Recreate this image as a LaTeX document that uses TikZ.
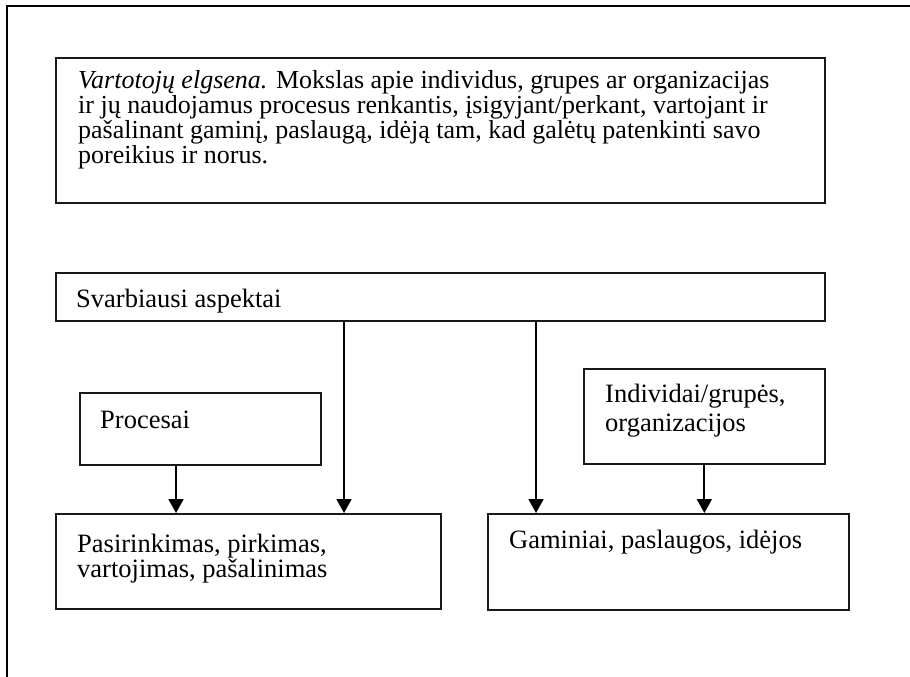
\documentclass[tikz,border=0pt]{standalone}
\usepackage{fontspec}
\setmainfont{Liberation Serif}
\usetikzlibrary{arrows.meta}
\begin{document}
\begin{tikzpicture}[x=1pt,y=-1pt,
  box/.style={draw=black!90,line width=1.7pt,rectangle,anchor=north west,inner sep=0pt},
  txt/.style={anchor=base west,inner sep=0pt,align=left,
    font=\fontsize{26.5}{24.7}\selectfont},
  link/.style={line width=1.9pt},
  arr/.style={link,-{Triangle[width=15pt,length=14pt]}}]
\useasboundingbox (0,0) rectangle (910,677);
% frame edges (left and top)
\coordinate (fb) at (6.5,680);
\coordinate (ftl) at (6.5,6.5);
\coordinate (fr) at (912,6.5);
\draw[line width=2pt] (fb) -- (ftl) -- (fr);
% definition box; text nodes are placed by the baseline of their last line
\node[box,minimum width=769pt,minimum height=145pt] (def) at (55,57) {};
\node[txt,font=\fontsize{26}{24.7}\selectfont] (deftxt) at (78,163) {\textit{Vartotojų elgsena.} Mokslas apie individus, grupes ar organizacijas\\
ir jų naudojamus procesus renkantis, įsigyjant/perkant, vartojant ir\\
pašalinant gaminį, paslaugą, idėją tam, kad galėtų patenkinti savo\\
poreikius ir norus.};
% main aspects
\node[box,minimum width=769pt,minimum height=48pt] (asp) at (55,272) {};
\node[txt] (asptxt) at (76,307) {Svarbiausi aspektai};
% processes
\node[box,minimum width=241pt,minimum height=72pt] (proc) at (79,392) {};
\node[txt] (proctxt) at (100,428) {Procesai};
% individuals
\node[box,minimum width=241pt,minimum height=95pt] (ind) at (583,368) {};
\node[txt,font=\fontsize{26.5}{29}\selectfont] (indtxt) at (605,431) {Individai/grupės,\\organizacijos};
% selection
\node[box,minimum width=385pt,minimum height=95pt] (sel) at (55,513) {};
\node[txt] (seltxt) at (77,577) {Pasirinkimas, pirkimas,\\vartojimas, pašalinimas};
% products
\node[box,minimum width=361pt,minimum height=96pt] (prod) at (487,513) {};
\node[txt] (prodtxt) at (509,548) {Gaminiai, paslaugos, idėjos};
% connectors
\draw[arr] (proc.south -| 176,0) -- (sel.north -| 176,0);
\draw[arr] (asp.south -| 344,0) -- (sel.north -| 344,0);
\draw[arr] (asp.south -| 536,0) -- (prod.north -| 536,0);
\draw[arr] (ind.south) -- (prod.north -| ind.south);
\end{tikzpicture}
\end{document}
